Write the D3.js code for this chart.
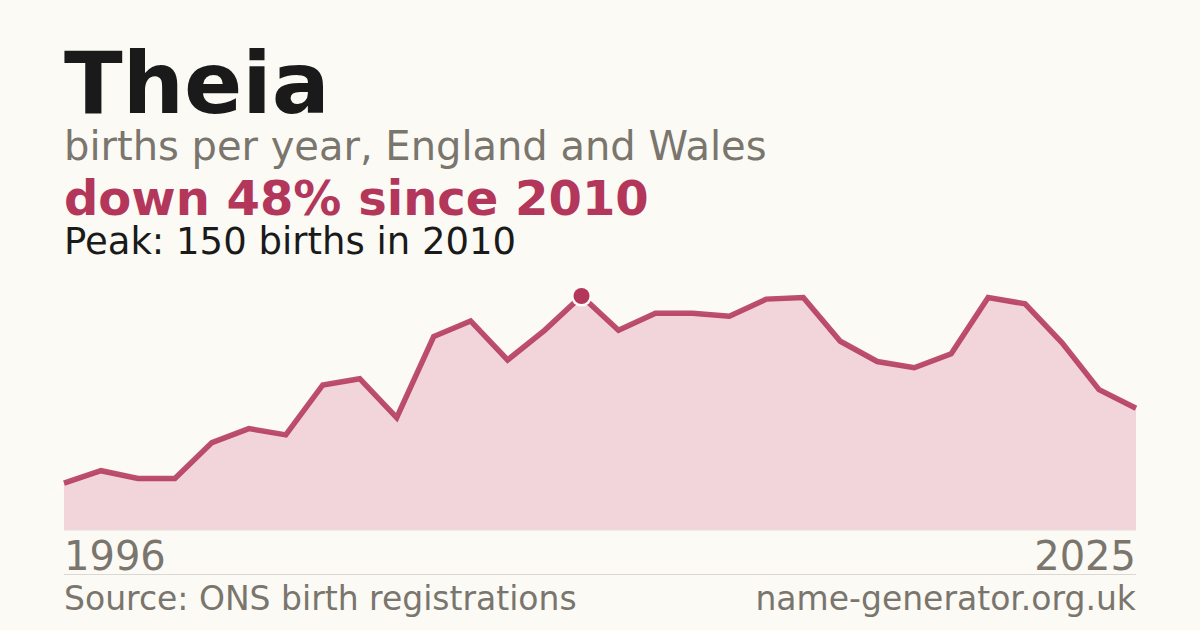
<!DOCTYPE html>
<html>
<head>
<meta charset="utf-8">
<script src="https://cdn.jsdelivr.net/npm/d3@7/dist/d3.min.js"></script>
<style>
  html, body { margin: 0; padding: 0; background: #fbfaf5; }
  svg { display: block; font-family: "DejaVu Sans", sans-serif; }
</style>
</head>
<body>
<div id="chart"></div>
<script>
const years = d3.range(1996, 2026);
const births = [30, 38, 33, 33, 56, 65, 61, 93, 97, 72,
                124, 134, 109, 128, 150, 128, 139, 139, 137, 148,
                149, 121, 108, 104, 113, 149, 145, 120, 90, 78];
const axisLabels = ["1996", "2025"];

const W = 1200, H = 630;
const plotLeft = 64, plotRight = 1136, plotTop = 296, plotBottom = 530;

const red = "#b3375a";
const grey = "#7a756d";

const svg = d3.select("#chart").append("svg")
    .attr("width", W)
    .attr("height", H);

svg.append("rect")
    .attr("width", W).attr("height", H)
    .style("fill", "#fbfaf5");

const x = d3.scaleLinear().domain([1996, 2025]).range([plotLeft, plotRight]);
const y = d3.scaleLinear().domain([0, 150]).range([plotBottom, plotTop]);

const data = years.map((yr, i) => ({year: yr, value: births[i]}));

// title block
svg.append("text")
    .attr("x", 64).attr("y", 113)
    .style("font-size", "86px").style("font-weight", "bold")
    .style("fill", "#1a1a1a")
    .text("Theia");

svg.append("text")
    .attr("x", 64).attr("y", 160)
    .style("font-size", "40px")
    .style("fill", grey)
    .text("births per year, England and Wales");

const peakIdx = d3.maxIndex(births);
const last = births[births.length - 1];
const change = Math.round((1 - last / births[peakIdx]) * 100);

svg.append("text")
    .attr("x", 64).attr("y", 215)
    .style("font-size", "48px").style("font-weight", "bold")
    .style("fill", red)
    .text("down " + change + "% since " + years[peakIdx]);

svg.append("text")
    .attr("x", 64).attr("y", 254)
    .style("font-size", "37px")
    .style("fill", "#1a1a1a")
    .text("Peak: " + births[peakIdx] + " births in " + years[peakIdx]);

// area + line
const area = d3.area()
    .x(d => x(d.year))
    .y0(plotBottom)
    .y1(d => y(d.value));

const line = d3.line()
    .x(d => x(d.year))
    .y(d => y(d.value));

svg.append("path")
    .datum(data)
    .attr("d", area)
    .style("fill", "#f2d5db");

svg.append("line")
    .attr("x1", plotLeft).attr("x2", plotRight)
    .attr("y1", plotBottom).attr("y2", plotBottom)
    .style("stroke", "#e6dcd9")
    .style("stroke-width", 1);

svg.append("path")
    .datum(data)
    .attr("d", line)
    .style("fill", "none")
    .style("stroke", red)
    .style("stroke-width", 5.5)
    .style("stroke-linejoin", "miter")
    .style("opacity", 0.88);

svg.append("circle")
    .attr("cx", x(years[peakIdx]))
    .attr("cy", y(births[peakIdx]))
    .attr("r", 10.5)
    .style("fill", "#fdfbf8");
svg.append("circle")
    .attr("cx", x(years[peakIdx]))
    .attr("cy", y(births[peakIdx]))
    .attr("r", 8)
    .style("fill", red);

// year labels
svg.append("text")
    .attr("x", plotLeft).attr("y", 570)
    .style("font-size", "40px").style("fill", grey)
    .text(axisLabels[0]);
svg.append("text")
    .attr("x", plotRight).attr("y", 570)
    .attr("text-anchor", "end")
    .style("font-size", "40px").style("fill", grey)
    .text(axisLabels[1]);

svg.append("line")
    .attr("x1", plotLeft).attr("x2", plotRight)
    .attr("y1", 574.5).attr("y2", 574.5)
    .style("stroke", "#dcd8d1")
    .style("stroke-width", 1);

// footer
svg.append("text")
    .attr("x", plotLeft).attr("y", 610)
    .style("font-size", "33px").style("fill", grey)
    .text("Source: ONS birth registrations");
svg.append("text")
    .attr("x", plotRight).attr("y", 610)
    .attr("text-anchor", "end")
    .style("font-size", "33px").style("fill", grey)
    .text("name-generator.org.uk");
</script>
</body>
</html>
